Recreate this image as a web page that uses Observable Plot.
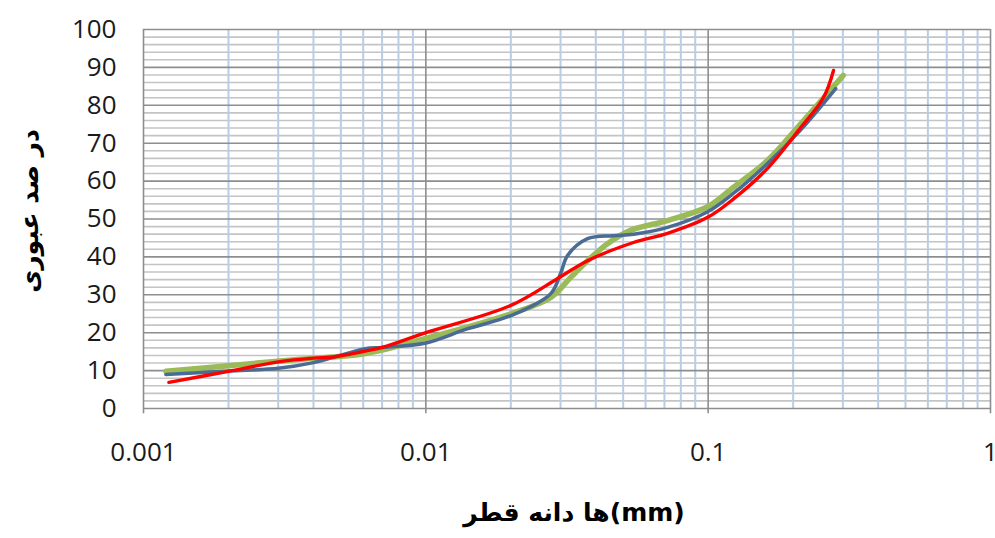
<!DOCTYPE html>
<html>
<head>
<meta charset="utf-8">
<script src="https://cdn.jsdelivr.net/npm/d3@7"></script>
<script src="https://cdn.jsdelivr.net/npm/@observablehq/plot@0.6"></script>
<style>
  html, body { margin: 0; padding: 0; background: #fff; }
  #chart svg { display: block; }
</style>
</head>
<body>
<div id="chart"></div>
<script>
// Grain size (mm) and percent passing for the three curves
const blueX = [0.0012, 0.002, 0.003, 0.004, 0.0047, 0.0061, 0.007, 0.01, 0.014, 0.02, 0.0277, 0.030, 0.0318, 0.0374, 0.0462, 0.0544, 0.0718, 0.1, 0.123, 0.162, 0.212, 0.283];
const blueY = [9.0, 9.9, 10.6, 12.1, 13.5, 15.8, 16.1, 17.3, 21, 24.5, 30.3, 35.6, 40.4, 44.8, 45.6, 46.0, 47.8, 52.0, 56.8, 64.6, 73.4, 84.4];

const greenX = [0.0012, 0.002, 0.0036, 0.0061, 0.01, 0.02, 0.0277, 0.0326, 0.0374, 0.044, 0.0531, 0.0718, 0.1, 0.123, 0.162, 0.212, 0.301];
const greenY = [9.8, 11.3, 13.0, 14.5, 18.5, 25.0, 29.3, 34.6, 39.0, 43.5, 47.0, 49.6, 53.3, 58.4, 65.4, 75.0, 87.9];

const redX = [0.00123, 0.002, 0.003, 0.004, 0.0047, 0.0055, 0.007, 0.01, 0.02, 0.0293, 0.0374, 0.0544, 0.0718, 0.1, 0.123, 0.162, 0.212, 0.256, 0.278];
const redY = [6.9, 9.8, 12.3, 13.3, 13.6, 14.5, 16.1, 20.0, 27.2, 34.3, 39.0, 43.8, 46.2, 50.5, 55.3, 63.3, 74.0, 82.0, 89.2];

// Axis ticks and grid
const xTicks = [0.001, 0.01, 0.1, 1];
const xTickLabels = ["0.001", "0.01", "0.1", "1"];
const yTicks = [0, 10, 20, 30, 40, 50, 60, 70, 80, 90, 100];
const xMinor = [0.001, 0.01, 0.1].flatMap(d => [2, 3, 4, 5, 6, 7, 8, 9].map(k => k * d));
const yMinor = d3.range(0, 101, 2).filter(v => v % 10 !== 0);

const xTitle = "ها دانه قطر(mm)";
const yTitle = "در صد عبوری";

const toRows = (xs, ys) => xs.map((x, i) => ({x, y: ys[i]}));
const blue = toRows(blueX, blueY);
const green = toRows(greenX, greenY);
const red = toRows(redX, redY);

const chart = Plot.plot({
  width: 995,
  height: 538,
  marginLeft: 143,
  marginRight: 5,
  marginTop: 29,
  marginBottom: 130,
  style: {fontFamily: "'Open Sans', sans-serif", background: "#fff", overflow: "visible"},
  x: {type: "log", domain: [0.001, 1], axis: null},
  y: {type: "linear", domain: [0, 100], axis: null},
  marks: [
    Plot.ruleY(yMinor, {stroke: "#c4c4c4", strokeWidth: 1.6}),
    Plot.ruleX(xMinor, {stroke: "#b9cde6", strokeWidth: 2}),
    Plot.ruleY(yTicks, {stroke: "#8e8e8e", strokeWidth: 1.6}),
    Plot.ruleX(xTicks, {stroke: "#8e8e8e", strokeWidth: 1.6}),
    Plot.ruleX(xTicks, {y1: 0, y2: -1.4, stroke: "#8e8e8e", strokeWidth: 1.6, clip: false}),
    Plot.axisX({ticks: xTicks, tickFormat: d => xTickLabels[xTicks.indexOf(d)], tickSize: 0, tickPadding: 34, fontSize: 26, label: null, color: "#1a1a1a"}),
    Plot.axisY({ticks: yTicks, tickSize: 0, tickPadding: 27, fontSize: 26, label: null, color: "#1a1a1a"}),
    Plot.line(green, {x: "x", y: "y", stroke: "#9bbb59", strokeWidth: 5.5, curve: "catmull-rom"}),
    Plot.line(blue, {x: "x", y: "y", stroke: "#4a6b94", strokeWidth: 3.5, curve: "catmull-rom"}),
    Plot.line(red, {x: "x", y: "y", stroke: "#ff0000", strokeWidth: 3.4, curve: "catmull-rom"}),
    Plot.text([xTitle], {frameAnchor: "bottom", textAnchor: "middle", dy: 112, dx: 7, fontSize: 25, fontWeight: "bold", fontFamily: "'DejaVu Sans', sans-serif", fill: "#000"}),
    Plot.text([yTitle], {frameAnchor: "left", textAnchor: "middle", dx: -114, dy: -8, rotate: -90, fontSize: 25, fontWeight: "bold", fontFamily: "'DejaVu Sans', sans-serif", fill: "#000"})
  ]
});
document.getElementById("chart").appendChild(chart);
</script>
</body>
</html>
